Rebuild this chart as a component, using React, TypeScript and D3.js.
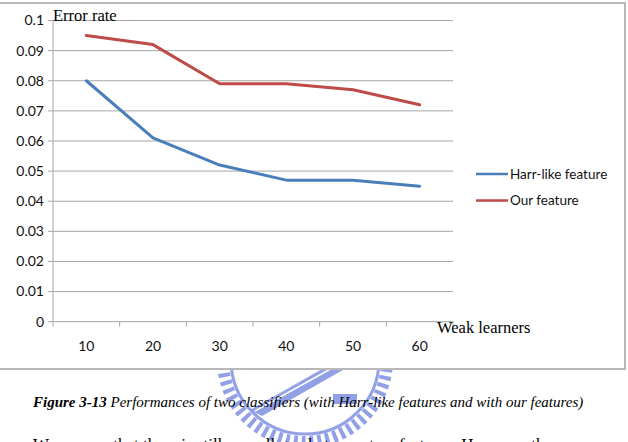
import React from "react";
import * as d3 from "d3";

const categories = ["10", "20", "30", "40", "50", "60"];
const harrValues = [0.08, 0.061, 0.052, 0.047, 0.047, 0.045];
const ourValues = [0.095, 0.092, 0.079, 0.079, 0.077, 0.072];
const yTicks = [0, 0.01, 0.02, 0.03, 0.04, 0.05, 0.06, 0.07, 0.08, 0.09, 0.1];
const seriesNames = ["Harr-like feature", "Our feature"];
const seriesColors = ["#4A7EBB", "#BE4B48"];

export default function App() {
  const W = 628, H = 442;
  const left = 53, right = 453, top = 20.5, bottom = 321.7;
  const x = d3.scaleBand().domain(categories).range([left, right]);
  const y = d3.scaleLinear().domain([0, 0.1]).range([bottom, top]);
  const line = d3
    .line<number>()
    .x((_, i) => (x(categories[i]) as number) + x.bandwidth() / 2)
    .y((d) => y(d));
  const series = [harrValues, ourValues];
  const tickFont = "Lato, 'Open Sans', sans-serif";
  const serif = "'Liberation Serif', 'DejaVu Serif', serif";
  const fmt = (v: number) => (v === 0 ? "0" : String(+v.toFixed(2)));
  const wm = "#8797e4";

  return (
    <svg
      width={W}
      height={H}
      style={{ position: "absolute", left: 0, top: 0, background: "#fff" }}
    >
      {/* watermark (partially visible below chart) */}
      <g opacity={0.9}>
        <circle cx={305} cy={360} r={74} fill="none" stroke={wm} strokeWidth={3} />
        <circle cx={305} cy={360} r={82} fill="none" stroke={wm} strokeWidth={12} strokeDasharray="4 4" />
        <path d="M250,410 L338,360 L350,366 L262,416 Z" fill={wm} />
        <path d="M255,411 L343,362" stroke="#fff" strokeWidth={1.5} />
        <rect x={333} y={394} width={24} height={10} fill={wm} />
        <path d="M372,366 A13,13 0 1 1 350,382 A10,10 0 1 0 372,366 Z" fill={wm} />
      </g>

      {/* chart frame */}
      <rect x={-2} y={3} width={627} height={366} fill="#fff" stroke="#b8b8b8" strokeWidth={2} />

      {/* gridlines */}
      {yTicks.map((t) => (
        <line key={"g" + t} x1={left - 5} x2={right} y1={y(t)} y2={y(t)} stroke="#a6a6a6" strokeWidth={1} />
      ))}
      {/* y axis */}
      <line x1={left} x2={left} y1={top} y2={bottom} stroke="#a6a6a6" strokeWidth={1} />
      {yTicks.map((t) => (
        <text
          key={"yl" + t}
          x={44}
          y={y(t)}
          dy="0.35em"
          textAnchor="end"
          fontFamily={tickFont}
          fontSize={14}
          fill="#111"
        >
          {fmt(t)}
        </text>
      ))}
      {/* x axis */}
      {d3.range(categories.length + 1).map((i) => {
        const xv = left + i * x.step();
        return <line key={"xt" + i} x1={xv} x2={xv} y1={bottom} y2={bottom + 5} stroke="#a6a6a6" />;
      })}
      {categories.map((c) => (
        <text
          key={"xl" + c}
          x={(x(c) as number) + x.bandwidth() / 2}
          y={350.5}
          textAnchor="middle"
          fontFamily={tickFont}
          fontSize={14}
          fill="#111"
        >
          {c}
        </text>
      ))}

      {/* series */}
      {series.map((s, i) => (
        <path
          key={"s" + i}
          d={line(s) as string}
          fill="none"
          stroke={seriesColors[i]}
          strokeWidth={3}
          strokeLinejoin="round"
          strokeLinecap="round"
        />
      ))}

      {/* axis titles */}
      <text x={53} y={21} fontFamily={serif} fontSize={16.5} fill="#000">
        Error rate
      </text>
      <text x={437} y={333} fontFamily={serif} fontSize={16.5} fill="#000">
        Weak learners
      </text>

      {/* legend */}
      {seriesNames.map((n, i) => {
        const ly = 174 + i * 26.5;
        return (
          <g key={"lg" + i}>
            <line x1={476} x2={508} y1={ly} y2={ly} stroke={seriesColors[i]} strokeWidth={2.5} />
            <text x={510} y={ly} dy="0.35em" fontFamily={tickFont} fontSize={13.5} fill="#111">
              {n}
            </text>
          </g>
        );
      })}

      {/* caption */}
      <text x={33} y={407} fontFamily={serif} fontSize={15} fontStyle="italic" fill="#000">
        <tspan fontWeight="bold">Figure 3-13</tspan>
        <tspan> Performances of two classifiers (with Harr-like features and with our features)</tspan>
      </text>
      <text x={33} y={450} fontFamily={serif} fontSize={17} fill="#000">
        We can see that there is still a small gap between two features. However, the
      </text>
    </svg>
  );
}
